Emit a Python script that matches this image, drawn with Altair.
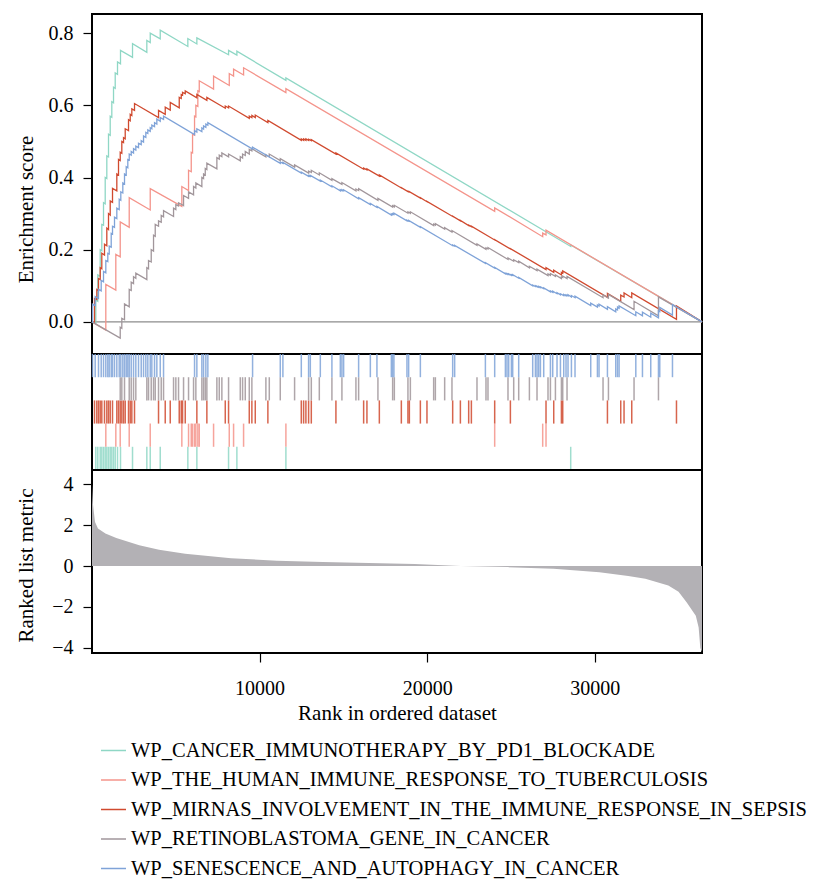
import altair as alt
import pandas as pd

N_GENES = 36400

SET_NAMES = [
    "WP_CANCER_IMMUNOTHERAPY_BY_PD1_BLOCKADE",
    "WP_THE_HUMAN_IMMUNE_RESPONSE_TO_TUBERCULOSIS",
    "WP_MIRNAS_INVOLVEMENT_IN_THE_IMMUNE_RESPONSE_IN_SEPSIS",
    "WP_RETINOBLASTOMA_GENE_IN_CANCER",
    "WP_SENESCENCE_AND_AUTOPHAGY_IN_CANCER",
]
SET_COLORS = ["#8fd7c5", "#f4948b", "#d04a2f", "#a1969b", "#7fa3d8"]

# ---- hit ranks and running enrichment score just before / after each hit ----
hits_pd1 = [227, 346, 490, 585, 687, 788, 884, 985, 1087, 1182, 1284, 1385, 1522, 1701,
            2418, 3272, 3475, 4072, 5719, 6257, 8149, 8645, 11570, 28566]
pre_pd1 = [-0.005, 0.057, 0.126, 0.197, 0.268, 0.327, 0.397, 0.457, 0.517, 0.567, 0.607, 0.647, 0.686, 0.715,
           0.733, 0.747, 0.774, 0.784, 0.763, 0.770, 0.740, 0.739, 0.669, 0.209]
post_pd1 = [0.06, 0.13, 0.20, 0.27, 0.33, 0.40, 0.46, 0.52, 0.57, 0.61, 0.65, 0.69, 0.72, 0.752,
            0.771, 0.780, 0.80, 0.808, 0.785, 0.787, 0.752, 0.750, 0.676, 0.213]

hits_tb = [824, 1421, 1684, 2221, 3475, 5361, 5761, 5922, 6000, 6119, 6197, 6316, 6400, 7254,
           8191, 8448, 9045, 11570, 24029, 26894, 27092]
pre_tb = [-0.023, 0.088, 0.180, 0.262, 0.310, 0.320, 0.364, 0.416, 0.468, 0.517, 0.568, 0.597, 0.638, 0.645,
          0.655, 0.681, 0.684, 0.635, 0.306, 0.236, 0.241]
post_tb = [0.104, 0.187, 0.277, 0.344, 0.369, 0.375, 0.42, 0.47, 0.52, 0.57, 0.60, 0.64, 0.668, 0.681,
           0.688, 0.700, 0.704, 0.646, 0.316, 0.246, 0.254]

hits_mir = [149, 287, 388, 490, 585, 746, 884, 985, 1087, 1224,
            1481, 1582, 1684, 1779, 1881, 1982, 2179, 2281, 2376, 2537,
            3970, 4370, 4669, 5206, 5325, 5403, 5564, 6257, 6854, 7952,
            8149, 9385, 9540, 9743, 10495, 12489, 12627, 12764, 12925, 13086,
            14555, 16209, 16406, 17146, 18459, 18853, 18937, 19594, 19988, 21522,
            21982, 22477, 22638, 24029, 24966, 27092, 27552, 28011, 28089, 30757,
            31551, 31748, 32208, 34877]
pre_mir = [-0.002, 0.062, 0.087, 0.117, 0.147, 0.185, 0.211, 0.256, 0.296, 0.331,
           0.363, 0.407, 0.447, 0.467, 0.497, 0.507, 0.530, 0.557, 0.572, 0.586,
           0.566, 0.575, 0.587, 0.593, 0.619, 0.628, 0.632, 0.621, 0.614, 0.592,
           0.593, 0.564, 0.566, 0.566, 0.552, 0.503, 0.503, 0.503, 0.503, 0.502,
           0.465, 0.423, 0.421, 0.404, 0.371, 0.361, 0.360, 0.343, 0.333, 0.292,
           0.280, 0.267, 0.264, 0.227, 0.202, 0.145, 0.137, 0.130, 0.135, 0.068,
           0.057, 0.069, 0.067, 0.007]
post_mir = [0.065, 0.09, 0.12, 0.15, 0.19, 0.215, 0.26, 0.30, 0.335, 0.37,
            0.41, 0.45, 0.47, 0.50, 0.51, 0.535, 0.56, 0.575, 0.59, 0.605,
            0.586, 0.595, 0.608, 0.622, 0.630, 0.636, 0.640, 0.630, 0.622, 0.598,
            0.598, 0.570, 0.572, 0.573, 0.558, 0.507, 0.507, 0.507, 0.506, 0.505,
            0.468, 0.426, 0.424, 0.407, 0.372, 0.362, 0.361, 0.344, 0.334, 0.293,
            0.281, 0.268, 0.265, 0.228, 0.203, 0.150, 0.143, 0.137, 0.141, 0.079,
            0.074, 0.080, 0.080, 0.044]

hits_rb = [1684, 1779, 1940, 2221, 2340, 2478, 2615, 3272, 3373, 3534,
           3672, 3773, 3970, 4131, 4269, 4866, 5003, 5164, 5463, 5761,
           6060, 6197, 6555, 6657, 6758, 6854, 7451, 7594, 7749, 8149,
           8848, 8985, 9146, 9385, 9540, 10376, 10579, 11235, 12089, 12925,
           13086, 13564, 14316, 14913, 15749, 15910, 17062, 17940, 18041, 18853,
           18997, 20388, 20489, 21044, 21480, 22973, 23510, 23629, 24823, 25164,
           25462, 26101, 26555, 27211, 27355, 27653, 28011, 28089, 28346, 30495,
           30817, 32345, 33802]
pre_rb = [-0.045, -0.018, 0.006, 0.042, 0.087, 0.106, 0.121, 0.117, 0.147, 0.166,
          0.196, 0.237, 0.265, 0.276, 0.291, 0.292, 0.311, 0.321, 0.322, 0.342,
          0.352, 0.371, 0.375, 0.397, 0.407, 0.422, 0.424, 0.451, 0.458, 0.457,
          0.446, 0.454, 0.461, 0.465, 0.474, 0.457, 0.457, 0.447, 0.429, 0.412,
          0.414, 0.407, 0.392, 0.381, 0.363, 0.364, 0.337, 0.318, 0.319, 0.301,
          0.301, 0.267, 0.268, 0.257, 0.249, 0.212, 0.201, 0.202, 0.173, 0.168,
          0.164, 0.150, 0.142, 0.128, 0.129, 0.126, 0.120, 0.123, 0.120, 0.067,
          0.066, 0.034, 0.017]
post_rb = [-0.015, 0.01, 0.05, 0.09, 0.11, 0.125, 0.135, 0.15, 0.17, 0.20,
           0.24, 0.27, 0.28, 0.295, 0.308, 0.315, 0.325, 0.33, 0.35, 0.36,
           0.375, 0.385, 0.40, 0.41, 0.425, 0.44, 0.455, 0.462, 0.468, 0.465,
           0.458, 0.465, 0.472, 0.478, 0.480, 0.463, 0.465, 0.452, 0.435, 0.418,
           0.420, 0.413, 0.397, 0.386, 0.368, 0.369, 0.342, 0.322, 0.323, 0.305,
           0.305, 0.271, 0.272, 0.261, 0.253, 0.216, 0.205, 0.206, 0.177, 0.172,
           0.168, 0.154, 0.146, 0.133, 0.134, 0.130, 0.125, 0.127, 0.126, 0.075,
           0.076, 0.057, 0.069]

hits_sen = [30, 191, 388, 549, 687, 824, 943, 1027, 1146, 1224,
            1343, 1481, 1624, 1719, 1839, 1940, 2042, 2137, 2221, 2340,
            2478, 2615, 2776, 2937, 3075, 3212, 3331, 3475, 3570, 3731,
            3869, 4072, 4269, 6119, 6257, 6555, 6657, 6794, 6913, 9582,
            11235, 11391, 12489, 12925, 13027, 13624, 14316, 14818, 14913, 15015,
            15910, 16609, 17003, 17862, 17940, 18017, 18794, 18895, 19594, 21522,
            21641, 23474, 24029, 24668, 24764, 24865, 25026, 25104, 25462, 26298,
            26459, 26555, 26656, 26758, 26955, 27355, 27492, 27749, 27952, 28149,
            28286, 28405, 28608, 28823, 29760, 30160, 30256, 30757, 31252, 31358,
            31453, 32450, 32847, 33342, 33802, 33880, 34638]
pre_sen = [-0.001, 0.045, 0.065, 0.086, 0.111, 0.136, 0.167, 0.188, 0.207, 0.243,
           0.262, 0.286, 0.311, 0.337, 0.357, 0.382, 0.407, 0.427, 0.448, 0.462,
           0.468, 0.476, 0.483, 0.491, 0.498, 0.511, 0.522, 0.528, 0.535, 0.541,
           0.548, 0.556, 0.561, 0.519, 0.526, 0.527, 0.534, 0.539, 0.545, 0.479,
           0.439, 0.439, 0.412, 0.403, 0.403, 0.390, 0.374, 0.363, 0.363, 0.363,
           0.341, 0.325, 0.317, 0.296, 0.297, 0.298, 0.280, 0.279, 0.262, 0.211,
           0.210, 0.162, 0.149, 0.133, 0.132, 0.131, 0.129, 0.129, 0.121, 0.100,
           0.098, 0.097, 0.096, 0.095, 0.092, 0.083, 0.082, 0.078, 0.075, 0.073,
           0.072, 0.072, 0.069, 0.067, 0.045, 0.041, 0.044, 0.035, 0.028, 0.033,
           0.038, 0.017, 0.017, 0.013, 0.011, 0.028, 0.019]
post_sen = [0.049, 0.07, 0.09, 0.115, 0.14, 0.17, 0.19, 0.21, 0.245, 0.265,
            0.29, 0.315, 0.34, 0.36, 0.385, 0.41, 0.43, 0.45, 0.465, 0.472,
            0.48, 0.487, 0.495, 0.502, 0.515, 0.525, 0.532, 0.538, 0.545, 0.552,
            0.562, 0.566, 0.570, 0.530, 0.535, 0.537, 0.543, 0.548, 0.552, 0.484,
            0.443, 0.442, 0.415, 0.406, 0.406, 0.393, 0.377, 0.366, 0.366, 0.366,
            0.344, 0.328, 0.320, 0.299, 0.300, 0.301, 0.282, 0.281, 0.264, 0.213,
            0.212, 0.164, 0.151, 0.135, 0.134, 0.133, 0.131, 0.131, 0.123, 0.102,
            0.100, 0.099, 0.098, 0.097, 0.094, 0.086, 0.085, 0.081, 0.078, 0.076,
            0.075, 0.075, 0.073, 0.071, 0.052, 0.047, 0.049, 0.042, 0.036, 0.041,
            0.044, 0.028, 0.027, 0.024, 0.030, 0.040, 0.048]

# ---- ranked list metric ----
metric_rank = [0, 60, 180, 356, 800, 1450, 2820, 4000, 5560, 8300, 11040, 13780, 16520,
               19260, 22000, 24800, 27540, 30280, 32000, 33020, 34390, 35000, 35480,
               36030, 36200, 36300, 36400]
metric_val = [4.0, 3.0, 2.16, 1.84, 1.6, 1.38, 1.02, 0.80, 0.61, 0.39, 0.26, 0.20, 0.15,
              0.10, 0.0, -0.05, -0.13, -0.30, -0.48, -0.62, -0.95, -1.25, -1.77,
              -2.43, -3.0, -4.0, -4.2]

HITS = [hits_pd1, hits_tb, hits_mir, hits_rb, hits_sen]
PRES = [pre_pd1, pre_tb, pre_mir, pre_rb, pre_sen]
POSTS = [post_pd1, post_tb, post_mir, post_rb, post_sen]

es_rows, rug_rows = [], []
n_sets = len(SET_NAMES)
for i, (name, xs, pre, post) in enumerate(zip(SET_NAMES, HITS, PRES, POSTS)):
    assert len(xs) == len(pre) == len(post), name
    pts = [(0, 0.0)]
    for x, a, b in zip(xs, pre, post):
        pts += [(x, a), (x, b)]
    pts.append((N_GENES, 0.0))
    for k, (x, v) in enumerate(pts):
        es_rows.append({"set": name, "idx": k, "rank": x, "es": v})
    row = n_sets - 1 - i
    for x in xs:
        rug_rows.append({"set": name, "rank": x, "row": row, "row_end": row + 1})

es_df = pd.DataFrame(es_rows)
rug_df = pd.DataFrame(rug_rows)
metric_df = pd.DataFrame({"rank": metric_rank, "metric": metric_val, "base": [0.0] * len(metric_rank)})
zero_df = pd.DataFrame({"es": [0.0]})

FONT = "Liberation Serif, DejaVu Serif, serif"
W = 610
x_scale = alt.Scale(domain=[0, N_GENES], nice=False, zero=False)
color_scale = alt.Scale(domain=SET_NAMES, range=SET_COLORS)

es_lines = alt.Chart(es_df).mark_line(strokeWidth=1.3).encode(
    x=alt.X("rank:Q", scale=x_scale, axis=None),
    y=alt.Y("es:Q", scale=alt.Scale(domain=[-0.089, 0.853], nice=False, zero=False),
            axis=alt.Axis(values=[0, 0.2, 0.4, 0.6, 0.8], format=".1f", title="Enrichment score",
                          titleX=-66, titleY=195, titleAngle=270, titleBaseline="middle",
                          titleAlign="center", labelPadding=10)),
    color=alt.Color("set:N", scale=color_scale,
                    legend=alt.Legend(title=None, orient="none", legendX=8, legendY=723,
                                      direction="vertical", symbolType="stroke", symbolSize=625,
                                      symbolStrokeWidth=1.5, labelFont=FONT, labelFontSize=20.5,
                                      labelColor="black", labelLimit=1000, rowPadding=5.5,
                                      labelOffset=4, padding=0)),
    order=alt.Order("idx:Q"),
)
zero_line = alt.Chart(zero_df).mark_rule(color="#8c8c8c", strokeWidth=1.2).encode(y="es:Q")
top = alt.layer(zero_line, es_lines).properties(width=W, height=340)

mid = alt.Chart(rug_df).mark_rule(strokeWidth=1.5, opacity=0.85).encode(
    x=alt.X("rank:Q", scale=x_scale, axis=None),
    y=alt.Y("row:Q", scale=alt.Scale(domain=[0, 5], reverse=True, nice=False, zero=False), axis=None),
    y2="row_end:Q",
    color=alt.Color("set:N", scale=color_scale, legend=None),
).properties(width=W, height=116)

bottom = alt.Chart(metric_df).mark_area(color="#b3b1b5").encode(
    x=alt.X("rank:Q", scale=x_scale,
            axis=alt.Axis(values=[10000, 20000, 30000], format="d", title="Rank in ordered dataset",
                          labelPadding=16, titlePadding=4)),
    y=alt.Y("metric:Q", scale=alt.Scale(domain=[-4.25, 4.70], nice=False, zero=False),
            axis=alt.Axis(values=[-4, -2, 0, 2, 4], format="d", title="Ranked list metric",
                          titleX=-66, titleY=95, titleAngle=270, titleBaseline="middle",
                          titleAlign="center", labelPadding=10)),
    y2="base:Q",
).properties(width=W, height=183)

chart = alt.vconcat(top, mid, bottom, spacing=0, bounds="flush").properties(
    padding={"left": 6, "top": 5, "right": 2, "bottom": 2}
).configure_view(stroke="black", strokeWidth=2).configure_axis(
    grid=False, domain=False, labelFont=FONT, titleFont=FONT, labelFontSize=20, titleFontSize=21,
    titleFontWeight="normal", labelColor="black", titleColor="black", tickColor="black",
    tickSize=9, tickWidth=1.2
)

chart.save("out.html", embed_options={"renderer": "svg", "actions": False})
